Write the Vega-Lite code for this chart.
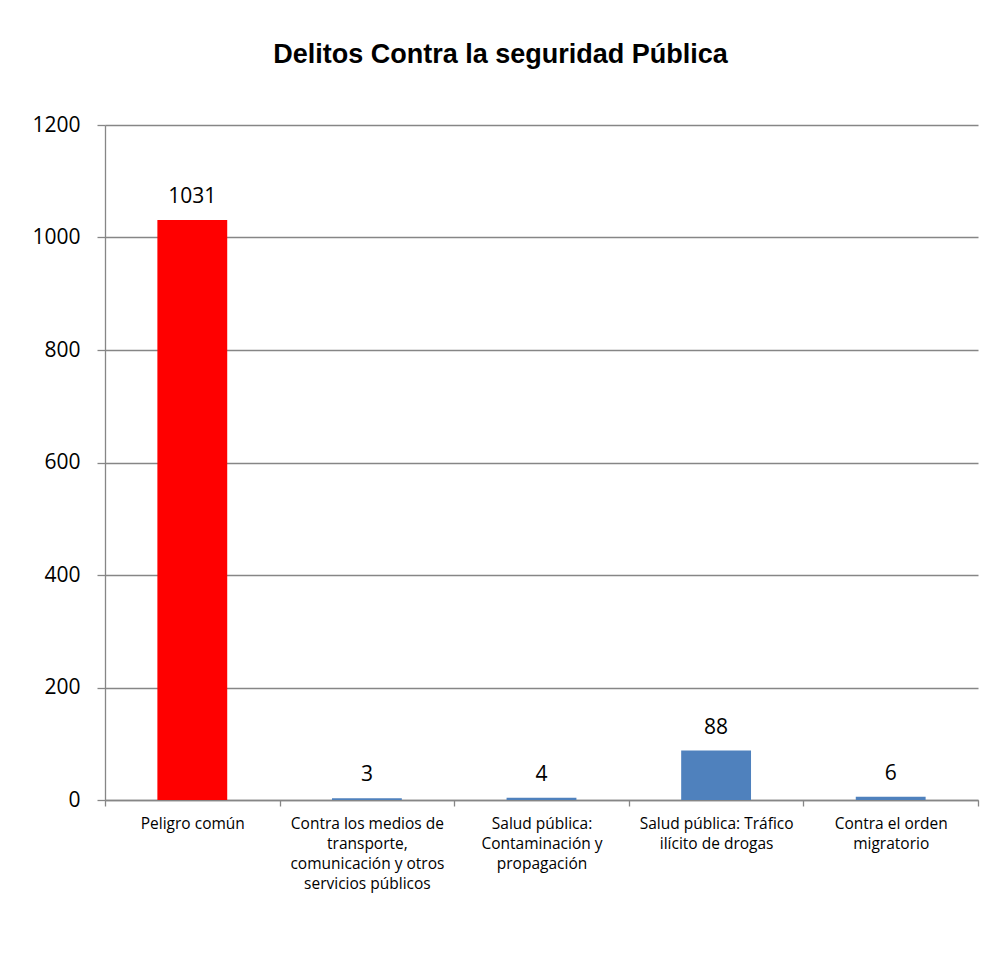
{
  "$schema": "https://vega.github.io/schema/vega-lite/v6.json",
  "autosize": "none",
  "width": 873,
  "height": 675,
  "padding": {"left": 105, "top": 125, "right": 23, "bottom": 154},
  "background": "white",
  "title": {
    "text": "Delitos Contra la seguridad Pública",
    "font": "Liberation Sans",
    "fontSize": 27,
    "fontWeight": "bold",
    "color": "black",
    "anchor": "middle",
    "frame": "group",
    "dx": -41,
    "offset": 45
  },
  "data": {
    "values": [
      {"categoria": "Peligro común", "valor": 1031, "tipo": "rojo"},
      {"categoria": "Contra los medios de\ntransporte,\ncomunicación y otros\nservicios públicos", "valor": 3, "tipo": "azul"},
      {"categoria": "Salud pública:\nContaminación y\npropagación", "valor": 4, "tipo": "azul"},
      {"categoria": "Salud pública: Tráfico\nilícito de drogas", "valor": 88, "tipo": "azul"},
      {"categoria": "Contra el orden\nmigratorio", "valor": 6, "tipo": "azul"}
    ]
  },
  "encoding": {
    "x": {
      "field": "categoria",
      "type": "nominal",
      "sort": null,
      "scale": {"paddingInner": 0, "paddingOuter": 0},
      "axis": {
        "title": null,
        "labelAngle": 0,
        "labelExpr": "split(datum.label, '\\n')",
        "labelFont": "Open Sans",
        "labelFontSize": 15.5,
        "labelColor": "black",
        "labelLineHeight": 20,
        "labelPadding": 10,
        "labelLimit": 0,
        "ticks": true,
        "tickBand": "extent",
        "tickSize": 6,
        "tickWidth": 1.3,
        "tickColor": "#868686",
        "domainColor": "#868686",
        "domainWidth": 1.3,
        "grid": false
      }
    },
    "y": {
      "field": "valor",
      "type": "quantitative",
      "scale": {"domain": [0, 1200], "nice": false},
      "axis": {
        "title": null,
        "values": [0, 200, 400, 600, 800, 1000, 1200],
        "format": "d",
        "labelFont": "Open Sans",
        "labelFontSize": 21,
        "labelColor": "black",
        "labelPadding": 17,
        "tickSize": 8,
        "tickWidth": 1.3,
        "tickColor": "#868686",
        "domainColor": "#868686",
        "domainWidth": 1.3,
        "grid": true,
        "gridColor": "#868686",
        "gridWidth": 1.3
      }
    }
  },
  "layer": [
    {
      "mark": {"type": "bar", "width": {"band": 0.4}},
      "encoding": {
        "color": {
          "field": "tipo",
          "type": "nominal",
          "scale": {"domain": ["rojo", "azul"], "range": ["#FF0000", "#4F81BD"]},
          "legend": null
        }
      }
    },
    {
      "mark": {"type": "text", "baseline": "alphabetic", "dy": -17, "font": "Open Sans", "fontSize": 21, "color": "black"},
      "encoding": {"text": {"field": "valor", "type": "quantitative"}}
    }
  ],
  "config": {"view": {"stroke": null}}
}
